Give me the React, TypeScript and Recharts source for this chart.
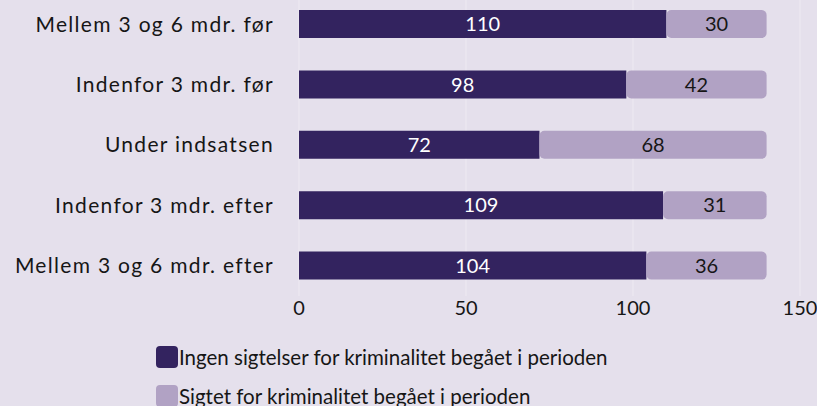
import { Bar, BarChart, CartesianGrid, LabelList, Legend, XAxis, YAxis } from "recharts"

const categories = [
  "Mellem 3 og 6 mdr. før",
  "Indenfor 3 mdr. før",
  "Under indsatsen",
  "Indenfor 3 mdr. efter",
  "Mellem 3 og 6 mdr. efter",
]
const ingen = [110, 98, 72, 109, 104]
const sigtet = [30, 42, 68, 31, 36]
const xTicks = [0, 50, 100, 150]

const seriesNames = {
  ingen: "Ingen sigtelser for kriminalitet begået i perioden",
  sigtet: "Sigtet for kriminalitet begået i perioden",
}

const data = categories.map((name, i) => ({ name, ingen: ingen[i], sigtet: sigtet[i] }))

const DARK = "#33235f"
const LIGHT = "#b1a2c4"
const BG = "#e5e0ec"
const TEXT = "#161616"
const FONT = "Lato, sans-serif"

function LegendContent(props: any) {
  const { payload } = props
  return (
    <div style={{ paddingLeft: 156, paddingTop: 11 }}>
      {(payload || []).map((p: any) => (
        <div key={p.value} style={{ display: "flex", alignItems: "center", height: 39, fontFamily: FONT, fontSize: 20.5, color: TEXT }}>
          <span style={{ width: 22, height: 22, borderRadius: 4, background: p.color, display: "inline-block", marginRight: 1 }} />
          {p.value}
        </div>
      ))}
    </div>
  )
}

export default function App() {
  return (
    <div style={{ position: "absolute", left: 0, top: 0, width: 817, height: 406, background: BG }}>
      <BarChart
        width={817}
        height={406}
        data={data}
        layout="vertical"
        margin={{ top: -6, right: 17, bottom: 0, left: 0 }}
      >
        <CartesianGrid horizontal={false} stroke="#eeeaf2" />
        <XAxis
          type="number"
          domain={[0, 150]}
          ticks={xTicks}
          axisLine={false}
          tickLine={false}
          tickSize={0}
          tickMargin={5}
          height={30}
          tick={{ fill: TEXT, fontSize: 20, fontFamily: FONT }}
        />
        <YAxis
          type="category"
          dataKey="name"
          width={299}
          axisLine={false}
          tickLine={false}
          tickSize={0}
          tickMargin={25}
          tick={{ fill: TEXT, fontSize: 21, fontFamily: FONT, letterSpacing: 1.3 }}
        />
        <Legend
          verticalAlign="bottom"
          align="left"
          layout="horizontal"
          height={80}
          content={<LegendContent />}
        />
        <Bar dataKey="ingen" name={seriesNames.ingen} stackId="a" fill={DARK} barSize={28} isAnimationActive={false}>
          <LabelList dataKey="ingen" position="center" fill="#ffffff" fontSize={20} fontFamily={FONT} />
        </Bar>
        <Bar dataKey="sigtet" name={seriesNames.sigtet} stackId="a" fill={LIGHT} barSize={28} radius={5} isAnimationActive={false}>
          <LabelList dataKey="sigtet" position="center" fill={TEXT} fontSize={20} fontFamily={FONT} />
        </Bar>
      </BarChart>
    </div>
  )
}
